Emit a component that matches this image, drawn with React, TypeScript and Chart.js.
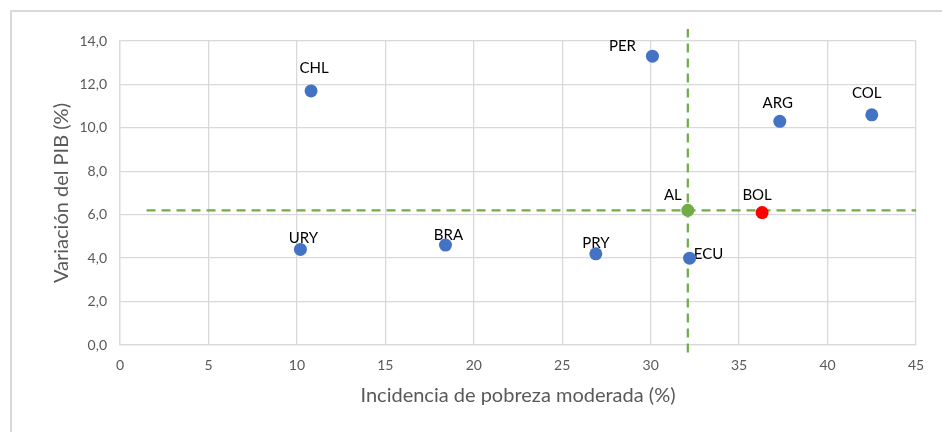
import React, { useEffect, useRef } from 'react';
import { Chart, registerables } from 'chart.js';

Chart.register(...registerables);

// Data
const countries = ['CHL', 'PER', 'ARG', 'COL', 'URY', 'BRA', 'PRY', 'ECU'];
const poverty = [10.8, 30.1, 37.3, 42.5, 10.2, 18.4, 26.9, 32.2];
const gdpGrowth = [11.7, 13.3, 10.3, 10.6, 4.4, 4.6, 4.2, 4.0];

const bolLabel = ['BOL'];
const bolPoverty = [36.3];
const bolGdp = [6.1];

const alLabel = ['AL'];
const alPoverty = [32.1];
const alGdp = [6.2];

// reference (dashed) lines through the regional average
const hLineX = [1.5, 45];
const vLineY = [-0.35, 14.55];

const xTicks = { min: 0, max: 45, step: 5 };
const yTicks = { min: 0, max: 14, step: 2 };

// label offsets in px (styling, not data)
const countryLabelOffsets = [
  [3, -23], [-30, -10], [-2, -18], [-5, -22], [3, -11], [3, -10], [0, -11], [19, -4],
];
const bolLabelOffsets = [[-5, -17]];
const alLabelOffsets = [[-15, -15]];

const FONT = 'Lato, "Open Sans", sans-serif';

export default function App() {
  const ref = useRef<HTMLCanvasElement>(null);

  useEffect(() => {
    document.body.style.margin = '0';
    const canvas = ref.current;
    if (!canvas) return;

    const labelPlugin = {
      id: 'pointLabels',
      beforeDatasetsDraw(chart: any) {
        const ctx = chart.ctx;
        ctx.save();
        ctx.font = `15px ${FONT}`;
        ctx.fillStyle = '#000000';
        ctx.textAlign = 'center';
        ctx.textBaseline = 'middle';
        chart.data.datasets.forEach((ds: any, di: number) => {
          if (!ds.labelTexts) return;
          const meta = chart.getDatasetMeta(di);
          meta.data.forEach((el: any, i: number) => {
            const off = ds.labelOffsets[i];
            ctx.fillText(ds.labelTexts[i], el.x + off[0], el.y + off[1]);
          });
        });
        ctx.restore();
      },
    };

    const pts = (xs: number[], ys: number[]) => xs.map((x, i) => ({ x, y: ys[i] }));

    const chart = new Chart(canvas, {
      type: 'scatter',
      data: {
        datasets: [
          {
            label: 'AL',
            data: pts(alPoverty, alGdp),
            backgroundColor: '#70AD47',
            borderColor: '#70AD47',
            pointRadius: 6.5,
            borderWidth: 0,
            labelTexts: alLabel,
            labelOffsets: alLabelOffsets,
          } as any,
          {
            label: 'BOL',
            data: pts(bolPoverty, bolGdp),
            backgroundColor: '#FF0000',
            borderColor: '#FF0000',
            pointRadius: 6.5,
            borderWidth: 0,
            labelTexts: bolLabel,
            labelOffsets: bolLabelOffsets,
          } as any,
          {
            label: 'Países',
            data: pts(poverty, gdpGrowth),
            backgroundColor: '#4472C4',
            borderColor: '#4472C4',
            pointRadius: 6.5,
            borderWidth: 0,
            labelTexts: countries,
            labelOffsets: countryLabelOffsets,
          } as any,
          {
            label: 'h',
            data: hLineX.map((x) => ({ x, y: alGdp[0] })),
            showLine: true,
            borderColor: '#70AD47',
            borderWidth: 2.25,
            borderDash: [9, 6],
            pointRadius: 0,
            clip: false,
          } as any,
          {
            label: 'v',
            data: vLineY.map((y) => ({ x: alPoverty[0], y })),
            showLine: true,
            borderColor: '#70AD47',
            borderWidth: 2.25,
            borderDash: [9, 6],
            pointRadius: 0,
            clip: false,
          } as any,
        ],
      },
      options: {
        animation: false,
        responsive: false,
        events: [],
        layout: { padding: { top: 41, right: 26, left: 0, bottom: 0 } },
        plugins: {
          legend: { display: false },
          tooltip: { enabled: false },
          title: { display: false },
        },
        scales: {
          x: {
            type: 'linear',
            min: xTicks.min,
            max: xTicks.max,
            ticks: {
              stepSize: xTicks.step,
              color: '#595959',
              font: { family: FONT, size: 14 },
              padding: 12,
            },
            grid: { color: '#d9d9d9', lineWidth: 1.3, drawTicks: false },
            border: { color: '#d9d9d9', width: 1.3 },
            title: {
              display: true,
              text: 'Incidencia de pobreza moderada (%)',
              color: '#595959',
              font: { family: FONT, size: 20 },
              padding: { top: 0, bottom: 24 },
            },
            afterFit: (s: any) => { s.height = 87; },
          },
          y: {
            type: 'linear',
            min: yTicks.min,
            max: yTicks.max,
            ticks: {
              stepSize: yTicks.step,
              color: '#595959',
              font: { family: FONT, size: 14 },
              padding: 13,
              callback: (v: any) => Number(v).toFixed(1).replace('.', ','),
            },
            grid: { color: '#d9d9d9', lineWidth: 1.3, drawTicks: false },
            border: { color: '#d9d9d9', width: 1.3 },
            title: {
              display: true,
              text: 'Variación del PIB (%)',
              color: '#595959',
              font: { family: FONT, size: 20 },
              padding: { top: 50, bottom: 0 },
            },
            afterFit: (s: any) => { s.width = 120; },
          },
        },
      } as any,
      plugins: [labelPlugin],
    });

    return () => chart.destroy();
  }, []);

  return (
    <div style={{ position: 'fixed', left: 0, top: 0, width: 942, height: 432, background: '#fff', overflow: 'hidden' }}>
      <div
        style={{
          position: 'absolute',
          left: 10,
          top: 10,
          width: 940,
          height: 430,
          border: '2px solid #d9d9d9',
          boxSizing: 'border-box',
        }}
      />
      <canvas ref={ref} width={942} height={432} style={{ position: 'absolute', left: 0, top: 0 }} />
    </div>
  );
}
